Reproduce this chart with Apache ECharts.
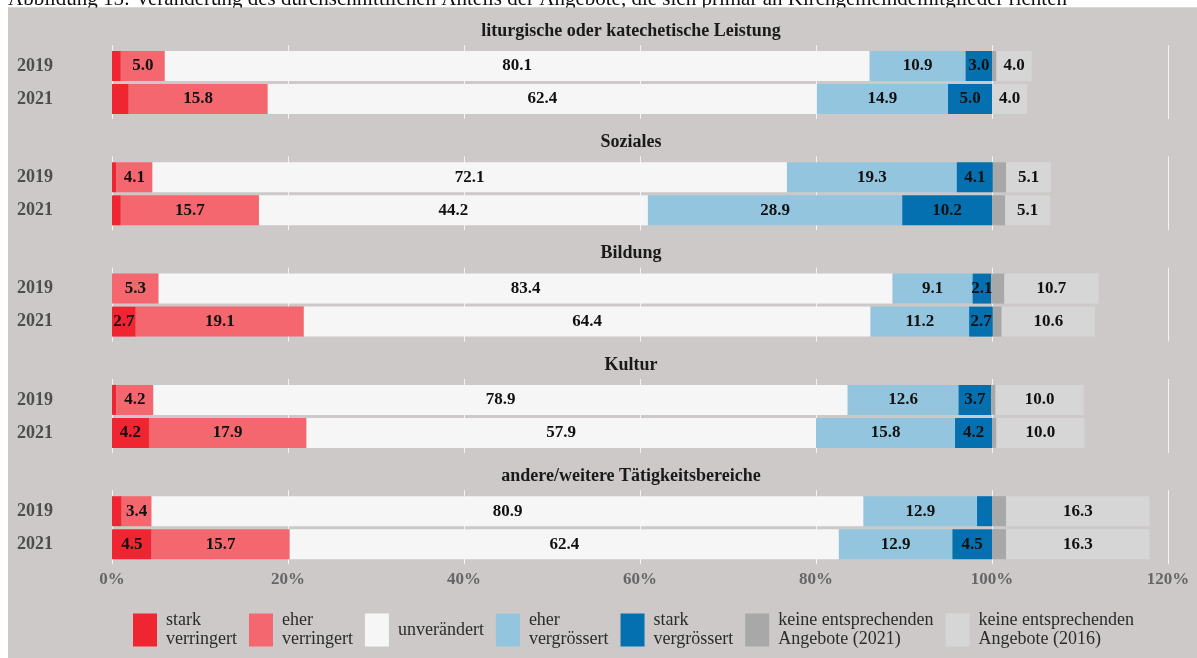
<!DOCTYPE html>
<html>
<head>
<meta charset="utf-8">
<script src="https://cdn.jsdelivr.net/npm/echarts@6/dist/echarts.min.js"></script>
<style>
html,body{margin:0;padding:0;background:#fff;}
#chart{width:1197px;height:658px;}
</style>
</head>
<body>
<div id="chart"></div>
<script>
const titleText = 'Abbildung 15: Veränderung des durchschnittlichen Anteils der Angebote, die sich primär an Kirchgemeindemitglieder richten';
const facets = ['liturgische oder katechetische Leistung', 'Soziales', 'Bildung', 'Kultur', 'andere/weitere Tätigkeitsbereiche'];
const years = ['2019', '2021'];
const xTicks = ['0%', '20%', '40%', '60%', '80%', '100%', '120%'];

const seriesNames = ['stark verringert', 'eher verringert', 'unverändert', 'eher vergrössert', 'stark vergrössert', 'keine entsprechenden Angebote (2021)', 'keine entsprechenden Angebote (2016)'];
const legendLabels = ['stark\nverringert', 'eher\nverringert', 'unverändert', 'eher\nvergrössert', 'stark\nvergrössert', 'keine entsprechenden\nAngebote (2021)', 'keine entsprechenden\nAngebote (2016)'];

// values per facet: [2019, 2021]
const starkVerringert   = [[1.0, 1.9], [0.5, 1.0], [0.0, 2.7], [0.5, 4.2], [1.1, 4.5]];
const eherVerringert    = [[5.0, 15.8], [4.1, 15.7], [5.3, 19.1], [4.2, 17.9], [3.4, 15.7]];
const unveraendert      = [[80.1, 62.4], [72.1, 44.2], [83.4, 64.4], [78.9, 57.9], [80.9, 62.4]];
const eherVergroessert  = [[10.9, 14.9], [19.3, 28.9], [9.1, 11.2], [12.6, 15.8], [12.9, 12.9]];
const starkVergroessert = [[3.0, 5.0], [4.1, 10.2], [2.1, 2.7], [3.7, 4.2], [1.7, 4.5]];
const keine2021         = [[0.5, 0.0], [1.5, 1.5], [1.5, 1.0], [0.5, 0.5], [1.6, 1.6]];
const keine2016         = [[4.0, 4.0], [5.1, 5.1], [10.7, 10.6], [10.0, 10.0], [16.3, 16.3]];

const allValues = [starkVerringert, eherVerringert, unveraendert, eherVergroessert, starkVergroessert, keine2021, keine2016];
const colors = ['#ef2631', '#f4676e', '#f6f6f6', '#93c5df', '#0570b0', '#a8a8a8', '#d6d6d6'];

const serif = '"Liberation Serif", "Times New Roman", serif';
const bg = '#cdc9c9';
const panelStep = 111.3;

const grids = [], xAxes = [], yAxes = [], series = [], graphics = [];

facets.forEach((f, i) => {
  // grid for gridlines
  grids.push({left: 112, right: 29, top: 45 + i * panelStep, height: 74});
  // grid for bars
  grids.push({left: 112, right: 29, top: 49.5 + i * panelStep, height: 66});
  xAxes.push({
    gridIndex: 2 * i, type: 'value', min: 0, max: 120, interval: 20,
    axisLine: {show: false}, axisTick: {show: false},
    splitLine: {show: true, lineStyle: {color: '#f4f4f4', width: 1}},
    axisLabel: {
      show: i === facets.length - 1, margin: 7,
      formatter: v => xTicks[Math.round(v / 20)],
      color: '#666', fontFamily: serif, fontWeight: 'bold', fontSize: 17
    }
  });
  xAxes.push({gridIndex: 2 * i + 1, type: 'value', min: 0, max: 120, show: false});
  yAxes.push({gridIndex: 2 * i, type: 'category', data: years, show: false});
  yAxes.push({
    gridIndex: 2 * i + 1, type: 'category', data: years, inverse: true,
    axisLine: {show: false}, axisTick: {show: false}, splitLine: {show: false},
    axisLabel: {margin: 59, color: '#4d4d4d', fontFamily: serif, fontWeight: 'bold', fontSize: 18}
  });
  seriesNames.forEach((name, s) => {
    series.push({
      type: 'bar', name: name,
      xAxisIndex: 2 * i + 1, yAxisIndex: 2 * i + 1,
      stack: 'facet' + i, barWidth: 30,
      itemStyle: {color: colors[s]},
      data: allValues[s][i],
      label: {
        show: s !== 5, position: 'inside',
        color: '#111', fontFamily: serif, fontWeight: 'bold', fontSize: 17,
        formatter: p => (p.value >= 2 ? p.value.toFixed(1) : '')
      },
      emphasis: {disabled: true}
    });
  });
  graphics.push({
    type: 'text', x: 631, y: 31 + i * panelStep, z: 10,
    style: {text: f, fill: '#1a1a1a', font: 'bold 18px ' + serif, align: 'center', verticalAlign: 'middle'}
  });
});

// white page margins and the cut-off caption on top
graphics.push({type: 'rect', shape: {x: 0, y: 0, width: 1197, height: 7.5}, style: {fill: '#fff'}, z: 20});
graphics.push({type: 'rect', shape: {x: 0, y: 0, width: 8, height: 658}, style: {fill: '#fff'}, z: 20});
graphics.push({type: 'text', x: 8, y: 10, z: 21, style: {text: titleText, fill: '#111', font: '21px ' + serif, verticalAlign: 'bottom'}});
graphics.push({type: 'rect', shape: {x: 8, y: 7.5, width: 1189, height: 14}, style: {fill: bg}, z: 22});

const option = {
  backgroundColor: bg,
  animation: false,
  grid: grids,
  xAxis: xAxes,
  yAxis: yAxes,
  series: series,
  graphic: graphics,
  legend: {
    data: seriesNames,
    left: 133, top: 611, padding: 0,
    itemWidth: 24, itemHeight: 33, itemGap: 12,
    icon: 'rect',
    selectedMode: false,
    formatter: name => legendLabels[seriesNames.indexOf(name)],
    textStyle: {color: '#2b2b2b', fontFamily: serif, fontSize: 18, lineHeight: 19, padding: [0, 0, 0, 4]}
  }
};

const chart = echarts.init(document.getElementById('chart'), null, {renderer: 'canvas'});
chart.setOption(option);
</script>
</body>
</html>
